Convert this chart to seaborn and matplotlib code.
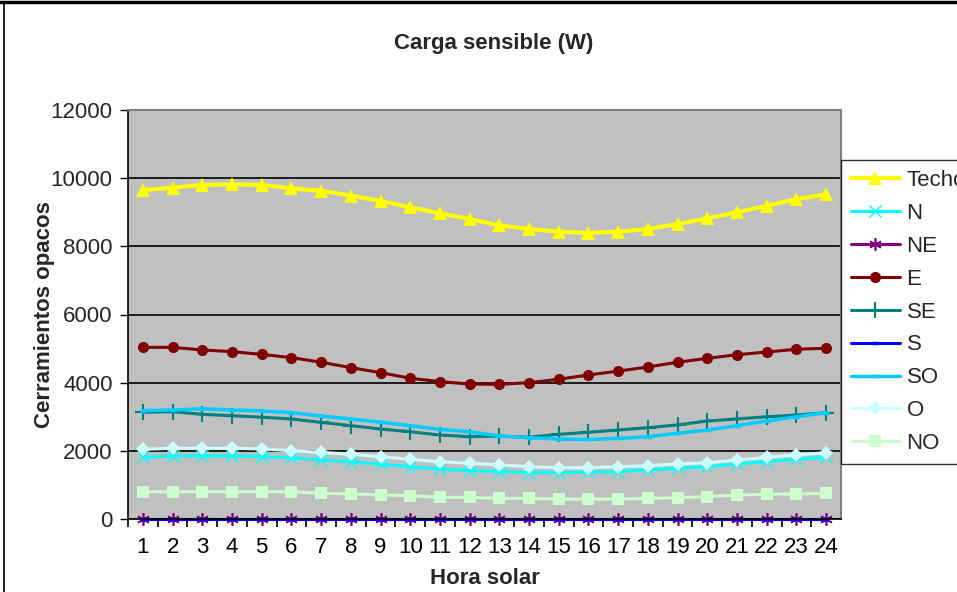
import matplotlib
matplotlib.use("Agg")
import matplotlib.pyplot as plt
import seaborn as sns
import pandas as pd
from matplotlib.lines import Line2D

hours = list(range(1, 25))
techo = [9650, 9720, 9800, 9820, 9800, 9700, 9630, 9490, 9330, 9145, 8970, 8800,
         8615, 8510, 8430, 8390, 8430, 8510, 8655, 8820, 9000, 9185, 9390, 9525]
n_vals = [1810, 1850, 1850, 1850, 1830, 1800, 1730, 1680, 1605, 1535, 1465, 1420,
          1390, 1360, 1360, 1370, 1390, 1440, 1485, 1535, 1615, 1680, 1750, 1810]
ne_vals = [0] * 24
e_vals = [5036, 5036, 4960, 4910, 4830, 4735, 4600, 4440, 4295, 4130, 4030, 3960,
          3950, 4000, 4100, 4225, 4340, 4460, 4600, 4715, 4820, 4900, 4980, 5010]
se_vals = [3130, 3150, 3070, 3030, 2985, 2935, 2835, 2740, 2640, 2560, 2465, 2415,
           2435, 2400, 2485, 2545, 2610, 2680, 2760, 2875, 2935, 3000, 3050, 3120]
s_vals = [0] * 24
so_vals = [3180, 3200, 3235, 3200, 3170, 3120, 3020, 2935, 2840, 2740, 2630, 2560,
           2435, 2385, 2345, 2335, 2365, 2415, 2515, 2610, 2740, 2875, 3000, 3120]
o_vals = [2045, 2075, 2075, 2075, 2055, 2005, 1955, 1900, 1830, 1750, 1680, 1635,
          1585, 1535, 1505, 1505, 1535, 1565, 1615, 1650, 1730, 1810, 1880, 1945]
no_vals = [800, 800, 800, 800, 800, 800, 755, 735, 705, 685, 635, 635,
           605, 605, 585, 585, 585, 605, 625, 655, 705, 725, 735, 755]

series_names = ["Techo", "N", "NE", "E", "SE", "S", "SO", "O", "NO"]
series_values = [techo, n_vals, ne_vals, e_vals, se_vals, s_vals, so_vals, o_vals, no_vals]

styles = {
    "Techo": dict(color="#FFFF00", marker="^", ms=10, lw=3.0, mew=0),
    "N": dict(color="#00FFFF", marker="x", ms=8, lw=2.2, mew=1.0),
    "NE": dict(color="#800080", marker=(6, 2, 0), ms=9, lw=2.2, mew=1.2),
    "E": dict(color="#800000", marker="o", ms=8, lw=2.2, mew=0),
    "SE": dict(color="#008080", marker="+", ms=11, lw=2.2, mew=1.5),
    "S": dict(color="#0000FF", marker="_", ms=5, lw=2.2, mew=2.5),
    "SO": dict(color="#00CCFF", marker="_", ms=5, lw=2.5, mew=2.5),
    "O": dict(color="#CCFFFF", marker="D", ms=7.5, lw=2.2, mew=0),
    "NO": dict(color="#CCFFCC", marker="s", ms=8.5, lw=2.2, mew=0),
}

sns.set_theme(style="white")
plt.rcParams["font.family"] = ["Liberation Sans", "DejaVu Sans"]

fig = plt.figure(figsize=(9.57, 5.92), dpi=100)
ax = fig.add_axes([128 / 957, 1 - 519 / 592, (841 - 128) / 957, (519 - 110) / 592])
ax.set_facecolor("#C0C0C0")

for name, vals in zip(series_names, series_values):
    st = styles[name]
    df = pd.DataFrame({"Hora": hours, "Valor": vals})
    sns.lineplot(data=df, x="Hora", y="Valor", ax=ax, color=st["color"], lw=st["lw"],
                 marker=st["marker"], markersize=st["ms"], markeredgewidth=st["mew"],
                 markeredgecolor=st["color"], label=name, clip_on=False)

ax.set_xlim(0.5, 24.5)
ax.set_ylim(0, 12000)
ax.set_yticks(range(0, 12001, 2000))
ax.set_xticks(hours)
ax.set_xticks([h + 0.5 for h in range(0, 24)], minor=True)
ax.tick_params(axis="x", which="major", length=0, pad=13, labelsize=16, colors="black")
ax.tick_params(axis="x", which="minor", length=6, width=1.2, color="black", direction="out", bottom=True)
ax.tick_params(axis="y", which="major", length=6, width=1, color="black", direction="out", left=True,
               labelsize=16, pad=5)
ax.yaxis.grid(True, color="black", lw=1.2)
ax.set_axisbelow(True)
for side in ["top", "right"]:
    ax.spines[side].set_color("#808080")
    ax.spines[side].set_linewidth(1.5)
for side in ["left", "bottom"]:
    ax.spines[side].set_color("black")
    ax.spines[side].set_linewidth(1.2)

ax.set_xlabel("Hora solar", fontsize=16, fontweight="bold", labelpad=7)
ax.set_ylabel("Cerramientos opacos", fontsize=16, fontweight="bold", labelpad=-3)
fig.text(494 / 957, 1 - 43 / 592, "Carga sensible (W)", ha="center", va="center",
         fontsize=16, fontweight="bold")

leg = ax.legend(loc="upper left", bbox_to_anchor=(1.0, 1 - 50 / 409), frameon=True,
                fontsize=16, handlelength=2.2, labelspacing=0.535, borderpad=0.45,
                handletextpad=0.3, fancybox=False, borderaxespad=0)
leg.get_frame().set_edgecolor("black")
leg.get_frame().set_linewidth(1.0)
leg.get_frame().set_facecolor("white")

# chart border
fig.add_artist(Line2D([4 / 957, 4 / 957], [0, 1 - 2 / 592], transform=fig.transFigure, color="black", lw=1.2))
fig.add_artist(Line2D([0, 1], [1 - 2 / 592, 1 - 2 / 592], transform=fig.transFigure, color="black", lw=2.5))

fig.savefig("out.png", dpi=100)
